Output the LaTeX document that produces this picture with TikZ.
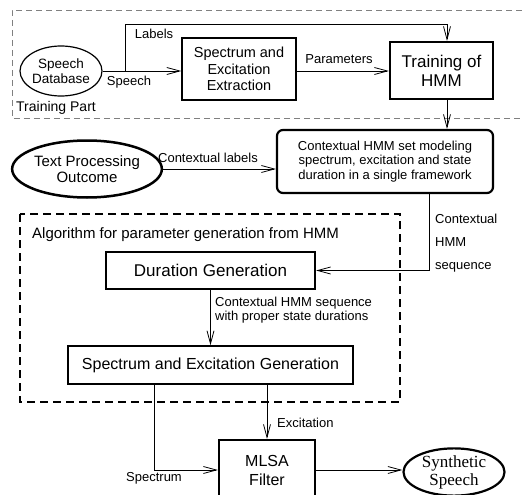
\documentclass[tikz,border=0pt]{standalone}
\usepackage{fontspec}
\setmainfont{Liberation Sans}
\newfontfamily\seriffont{Liberation Serif}
\usetikzlibrary{arrows.meta,shapes.geometric}
\begin{document}
\begin{tikzpicture}[x=1pt,y=-1pt,
 arr/.style={-{Straight Barb[length=13pt,width=7pt]},line width=0.8pt},
 thinbox/.style={draw,line width=1.3pt,inner sep=0pt,align=center},
 thickbox/.style={draw,line width=2.2pt,inner sep=0pt,align=center},
 lbl/.style={font=\fontsize{13}{14.5}\selectfont,inner sep=0pt}]
\useasboundingbox (0,0) rectangle (522,495);
% training part frame
\draw[gray,line width=0.8pt,dash pattern=on 6pt off 4pt] (522,10) -- (12,10) -- (12,118) -- (522,118);
\node[lbl,font=\fontsize{14}{16}\selectfont,anchor=west] (tp) at (16,108) {Training Part};
\node[ellipse,draw,line width=1.2pt,minimum width=82pt,minimum height=50pt,inner sep=0pt,align=center,font=\fontsize{13.5}{14.5}\selectfont] (db) at (61,71) {Speech\\Database};
\node[thinbox,minimum width=114pt,minimum height=62pt,font=\fontsize{14.5}{16.7}\selectfont] (sx) at (239,69) {Spectrum and\\Excitation\\Extraction};
\node[thickbox,minimum width=103pt,minimum height=57pt,font=\fontsize{17}{19}\selectfont] (tr) at (441.5,70.5) {Training of\\HMM};
\draw[arr] (db.east) -- (sx.west |- db.east);
\node[lbl] (lspeech) at (129,82) {Speech};
\coordinate (lj) at (125,71);
\coordinate (lt) at (125,24);
\draw[arr] (lj) -- (lt) -| ([xshift=5.5pt]tr.north);
\node[lbl] (llabels) at (154,34) {Labels};
\draw[arr] (sx.east |- 0,71) -- (tr.west |- 0,71);
\node[lbl] (lparam) at (339,59) {Parameters};
% contextual
\node[draw,line width=2.2pt,rounded corners=6pt,minimum width=216pt,minimum height=63pt,inner sep=0pt,align=center,font=\fontsize{13}{14.5}\selectfont] (ctx) at (385,161.5) {Contextual HMM set modeling\\spectrum, excitation and state\\duration in a single framework};
\draw[arr] ([xshift=5.5pt]tr.south) -- ([xshift=62pt]ctx.north);
\node[ellipse,draw,line width=2.5pt,minimum width=134pt,minimum height=57pt,inner sep=0pt,align=center,font=\fontsize{15}{16.5}\selectfont] (tpo) at (87,169) {Text Processing\\Outcome};
\draw[arr] (tpo.east) -- (ctx.west |- tpo.east);
\node[lbl] (lctx) at (208,158) {Contextual labels};
% algorithm frame
\draw[line width=1.6pt,dash pattern=on 8pt off 5pt] (20,214) rectangle (400,402);
\node[lbl,font=\fontsize{15}{17}\selectfont,anchor=west] (alg) at (32,235) {Algorithm for parameter generation from HMM};
\node[thickbox,minimum width=209pt,minimum height=37pt,font=\fontsize{17}{19}\selectfont] (dur) at (210.5,270.5) {Duration Generation};
\coordinate (cb) at (429,193);
\coordinate (cc) at (429,270.5);
\draw[arr] (cb) -- (cc) -- (dur.east);
\node[lbl,font=\fontsize{13}{23}\selectfont,align=left,anchor=west] (lseq) at (435,243) {Contextual\\HMM\\sequence};
\node[thinbox,line width=1.5pt,minimum width=285pt,minimum height=38pt,font=\fontsize{16}{18}\selectfont] (seg) at (210.5,365) {Spectrum and Excitation Generation};
\draw[arr] (dur.south) -- (seg.north);
\node[lbl,font=\fontsize{13}{14}\selectfont,align=left,anchor=north west] (lprop) at (215,297) {Contextual HMM sequence\\with proper state durations};
% output
\node[thickbox,minimum width=96pt,minimum height=60pt,font=\fontsize{16}{19}\selectfont] (mlsa) at (267,470) {MLSA\\Filter};
\coordinate (sc) at (154,470);
\draw[arr] (seg.south -| sc) -- (sc) -- (mlsa.west);
\node[lbl] (lspec) at (154,478) {Spectrum};
\draw[arr] (seg.south -| mlsa.north) -- (mlsa.north);
\node[lbl,anchor=west] (lexc) at (277,423) {Excitation};
\node[ellipse,draw,line width=2.2pt,minimum width=101pt,minimum height=46pt,inner sep=0pt,align=center,font=\seriffont\fontsize{17}{18}\selectfont] (syn) at (454,472) {Synthetic\\Speech};
\draw[arr] (mlsa.east) -- (syn.west |- mlsa.east);
\end{tikzpicture}
\end{document}
